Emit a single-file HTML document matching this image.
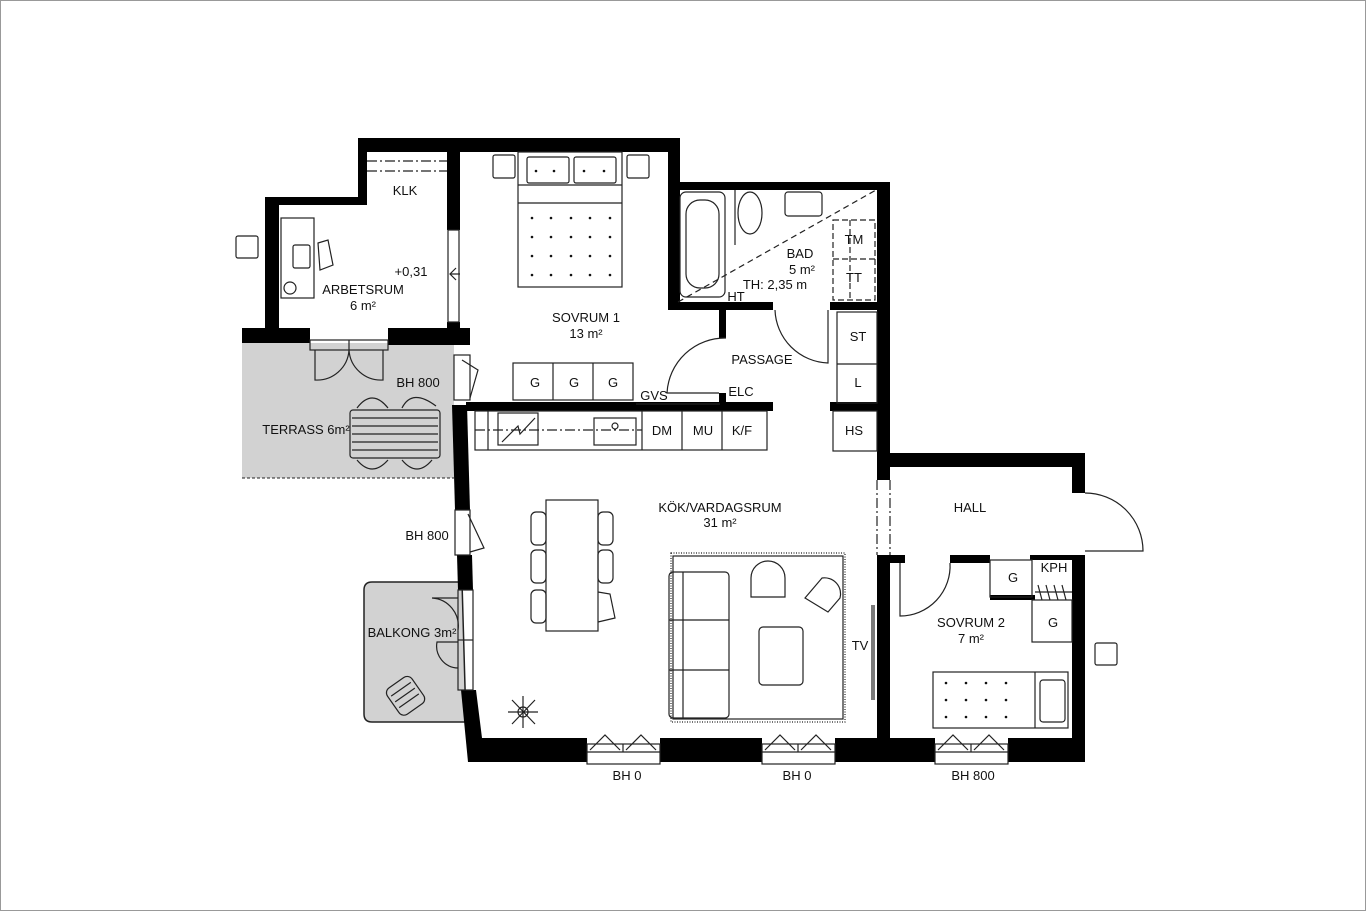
<!DOCTYPE html>
<html><head><meta charset="utf-8"><style>
html,body{margin:0;padding:0;background:#fff}
svg{display:block}
text{font-family:"Liberation Sans Narrow","Liberation Sans",sans-serif;font-size:13px;fill:#111}
</style></head><body>
<svg width="1366" height="911" viewBox="0 0 1366 911" xmlns="http://www.w3.org/2000/svg">
<rect x="0.5" y="0.5" width="1365" height="910" fill="#fff" stroke="#999"/>
<!-- gray outdoor -->
<rect x="242" y="343" width="212" height="135" fill="#d2d2d2"/>
<line x1="242" y1="478" x2="454" y2="478" stroke="#222" stroke-dasharray="3,2"/>
<path d="M372 582 H462 L466 722 H372 Q364 722 364 714 V590 Q364 582 372 582Z" fill="#d2d2d2" stroke="#222" stroke-width="1.5"/>
<g fill="#000">
<!-- top walls -->
<rect x="358" y="138" width="320" height="14"/>
<rect x="358" y="138" width="9" height="67"/>
<rect x="265" y="197" width="102" height="8"/>
<rect x="265" y="197" width="14" height="131"/>
<rect x="242" y="328" width="68" height="15"/>
<rect x="388" y="328" width="82" height="17"/>
<rect x="447" y="152" width="13" height="78"/>
<rect x="447" y="322" width="13" height="23"/>
<rect x="668" y="138" width="12" height="172"/>
<rect x="668" y="182" width="222" height="8"/>
<rect x="877" y="182" width="13" height="298"/>
<rect x="668" y="302" width="105" height="8"/>
<rect x="830" y="302" width="47" height="8"/>
<rect x="719" y="310" width="7" height="28"/>
<rect x="719" y="393" width="7" height="12"/>
<rect x="466" y="402" width="307" height="9"/>
<rect x="830" y="402" width="47" height="9"/>
<!-- left diagonal wall -->
<polygon points="452,405 467,405 470,510 455,510"/>
<polygon points="457,555 472,555 473,590 458,590"/>
<polygon points="461,690 476,690 482,738 482,762 468,762"/>
<rect x="468" y="738" width="119" height="24"/>
<rect x="660" y="738" width="102" height="24"/>
<rect x="835" y="738" width="100" height="24"/>
<rect x="1008" y="738" width="77" height="24"/>
<rect x="877" y="555" width="13" height="190"/>
<rect x="877" y="453" width="208" height="14"/>
<rect x="1072" y="453" width="13" height="40"/>
<rect x="1072" y="555" width="13" height="207"/>
<rect x="877" y="555" width="28" height="8"/>
<rect x="950" y="555" width="40" height="8"/>
<rect x="1030" y="555" width="45" height="5"/>
<rect x="990" y="595" width="45" height="5"/>
</g>
<g fill="none" stroke="#222" stroke-width="1.2">
<!-- windows bottom -->
<rect x="587" y="744" width="73" height="20"/><line x1="587" y1="752" x2="660" y2="752"/><line x1="623" y1="744" x2="623" y2="752"/>
<path d="M590 750 L605 735 L620 750 M626 750 L641 735 L656 750"/>
<rect x="762" y="744" width="73" height="20"/><line x1="762" y1="752" x2="835" y2="752"/><line x1="798" y1="744" x2="798" y2="752"/>
<path d="M765 750 L780 735 L795 750 M801 750 L816 735 L831 750"/>
<rect x="935" y="744" width="73" height="20"/><line x1="935" y1="752" x2="1008" y2="752"/><line x1="971" y1="744" x2="971" y2="752"/>
<path d="M938 750 L953 735 L968 750 M974 750 L989 735 L1004 750"/>
<!-- left windows -->
<rect x="455" y="510" width="15" height="45"/><path d="M468 514 L484 548 L470 552"/>
<rect x="458" y="590" width="15" height="100"/><line x1="458" y1="640" x2="473" y2="640"/>
<path d="M458 598 H432 A28 28 0 0 1 458 630 M458 642 H437 A22 22 0 0 0 458 668"/>
<rect x="454" y="355" width="16" height="45"/><path d="M462 360 L478 370 L470 398"/>
<!-- klk window -->
<line x1="367" y1="161" x2="447" y2="161" stroke-dasharray="10,3,2,3"/>
<line x1="367" y1="171" x2="447" y2="171" stroke-dasharray="10,3,2,3"/>
<rect x="448" y="230" width="11" height="92"/><path d="M456 268 L450 274 L456 280 M450 274 H460"/>
<!-- terrace door -->
<rect x="310" y="340" width="78" height="10"/><line x1="349" y1="340" x2="349" y2="350"/>
<path d="M315 350 V380 A32 32 0 0 0 349 350 M383 350 V380 A32 32 0 0 1 349 350"/>
<!-- terrace furniture -->
<rect x="350" y="410" width="90" height="48" rx="3"/>
<path d="M352 418 H438 M352 426 H438 M352 434 H438 M352 442 H438 M352 450 H438"/>
<path d="M357 408 Q372 388 388 408 M402 408 Q412 388 436 406 M357 460 Q372 478 388 460 M402 460 Q417 478 432 460"/>
<!-- arbetsrum -->
<rect x="281" y="218" width="33" height="80"/>
<rect x="293" y="245" width="17" height="23" rx="2"/>
<circle cx="290" cy="288" r="6"/>
<path d="M318 243 L328 240 L333 265 L320 270 Z"/>
<rect x="236" y="236" width="22" height="22" rx="2"/>
<!-- sovrum 1 -->
<rect x="493" y="155" width="22" height="23" rx="2"/><rect x="627" y="155" width="22" height="23" rx="2"/>
<rect x="518" y="152" width="104" height="135"/><line x1="518" y1="203" x2="622" y2="203"/><line x1="518" y1="185" x2="622" y2="185"/>
<rect x="527" y="157" width="42" height="26" rx="2"/><rect x="574" y="157" width="42" height="26" rx="2"/>
<rect x="513" y="363" width="120" height="37"/><line x1="553" y1="363" x2="553" y2="400"/><line x1="593" y1="363" x2="593" y2="400"/>
<!-- bathroom -->
<rect x="680" y="192" width="45" height="105" rx="6"/><rect x="686" y="200" width="33" height="88" rx="14"/>
<ellipse cx="750" cy="213" rx="12" ry="21"/><line x1="735" y1="190" x2="735" y2="245"/>
<rect x="785" y="192" width="37" height="24" rx="3"/>
<line x1="678" y1="302" x2="876" y2="190" stroke-dasharray="6,4"/>
<rect x="833" y="220" width="42" height="80" stroke-dasharray="6,3"/><line x1="833" y1="259" x2="875" y2="259" stroke-dasharray="6,3"/>
<line x1="850" y1="220" x2="850" y2="300" stroke-dasharray="6,3"/>
<!-- passage -->
<path d="M726 338 A58 58 0 0 0 667 393 H719"/>
<path d="M775 310 A55 55 0 0 0 828 363 V310"/>
<rect x="837" y="312" width="40" height="91"/><line x1="837" y1="364" x2="877" y2="364"/>
<rect x="833" y="411" width="44" height="40"/>
<!-- kitchen counter -->
<rect x="475" y="411" width="292" height="39"/><line x1="488" y1="411" x2="488" y2="450"/>
<line x1="475" y1="430" x2="642" y2="430" stroke-dasharray="10,3,2,3"/>
<rect x="498" y="413" width="40" height="32"/><path d="M502 442 L518 426 L520 434 L535 418"/>
<rect x="594" y="418" width="42" height="27"/><circle cx="615" cy="426" r="3"/>
<line x1="642" y1="411" x2="642" y2="450"/><line x1="682" y1="411" x2="682" y2="450"/><line x1="722" y1="411" x2="722" y2="450"/>
<line x1="636" y1="404" x2="720" y2="404"/>
<!-- dining -->
<rect x="546" y="500" width="52" height="131"/>
<rect x="531" y="512" width="15" height="33" rx="5"/><rect x="531" y="550" width="15" height="33" rx="5"/><rect x="531" y="590" width="15" height="33" rx="5"/>
<rect x="598" y="512" width="15" height="33" rx="5"/><rect x="598" y="550" width="15" height="33" rx="5"/><path d="M598 592 L610 594 L615 618 L598 622"/>
<!-- rug & sofa -->
<rect x="671" y="553" width="174" height="169" stroke-dasharray="1,1.5"/>
<rect x="673" y="556" width="170" height="163"/>
<rect x="669" y="572" width="60" height="146" rx="4"/><line x1="683" y1="572" x2="683" y2="718"/>
<line x1="669" y1="620" x2="729" y2="620"/><line x1="669" y1="670" x2="729" y2="670"/>
<rect x="759" y="627" width="44" height="58" rx="4"/>
<path d="M751 597 V578 A17 17 0 0 1 785 578 V597 Z"/>
<path d="M805 598 L822 578 A16 16 0 0 1 840 598 L828 612 Z"/>
<line x1="872" y1="605" x2="872" y2="700"/><line x1="874" y1="605" x2="874" y2="700"/>
<!-- plant -->
<path d="M512 700 L535 724 M535 700 L512 724 M523 696 V728 M508 712 H538"/>
<circle cx="523" cy="712" r="5"/>
<!-- hall openings -->
<line x1="877" y1="480" x2="877" y2="555" stroke-dasharray="10,3,2,3"/>
<line x1="890" y1="480" x2="890" y2="555" stroke-dasharray="10,3,2,3"/>
<path d="M1085 493 A58 58 0 0 1 1143 551 H1085"/>
<path d="M950 563 A50 50 0 0 1 900 616 V563"/>
<!-- sovrum 2 -->
<rect x="990" y="560" width="42" height="37"/>
<rect x="1032" y="600" width="40" height="42"/>
<path d="M1038 585 L1042 600 M1046 585 L1050 600 M1054 585 L1058 600 M1062 585 L1066 600 M1035 592 H1072"/>
<rect x="933" y="672" width="135" height="56"/><line x1="1035" y1="672" x2="1035" y2="728"/>
<rect x="1040" y="680" width="25" height="42" rx="3"/>
<rect x="1095" y="643" width="22" height="22" rx="2"/>
<!-- balcony chair -->
<g transform="rotate(-35 405 695)"><rect x="390" y="680" width="30" height="32" rx="6"/>
<path d="M393 688 H417 M393 695 H417 M393 702 H417"/></g>
</g>
<!-- dots -->
<g fill="#111">
<circle cx="536" cy="171" r="1.3"/><circle cx="554" cy="171" r="1.3"/><circle cx="584" cy="171" r="1.3"/><circle cx="604" cy="171" r="1.3"/>
<circle cx="532" cy="218" r="1.3"/><circle cx="551" cy="218" r="1.3"/><circle cx="571" cy="218" r="1.3"/><circle cx="590" cy="218" r="1.3"/><circle cx="610" cy="218" r="1.3"/>
<circle cx="532" cy="237" r="1.3"/><circle cx="551" cy="237" r="1.3"/><circle cx="571" cy="237" r="1.3"/><circle cx="590" cy="237" r="1.3"/><circle cx="610" cy="237" r="1.3"/>
<circle cx="532" cy="256" r="1.3"/><circle cx="551" cy="256" r="1.3"/><circle cx="571" cy="256" r="1.3"/><circle cx="590" cy="256" r="1.3"/><circle cx="610" cy="256" r="1.3"/>
<circle cx="532" cy="275" r="1.3"/><circle cx="551" cy="275" r="1.3"/><circle cx="571" cy="275" r="1.3"/><circle cx="590" cy="275" r="1.3"/><circle cx="610" cy="275" r="1.3"/>
<circle cx="946" cy="683" r="1.3"/><circle cx="966" cy="683" r="1.3"/><circle cx="986" cy="683" r="1.3"/><circle cx="1006" cy="683" r="1.3"/>
<circle cx="946" cy="700" r="1.3"/><circle cx="966" cy="700" r="1.3"/><circle cx="986" cy="700" r="1.3"/><circle cx="1006" cy="700" r="1.3"/>
<circle cx="946" cy="717" r="1.3"/><circle cx="966" cy="717" r="1.3"/><circle cx="986" cy="717" r="1.3"/><circle cx="1006" cy="717" r="1.3"/>
</g>
<!-- labels -->
<g text-anchor="middle">
<text x="405" y="195">KLK</text>
<text x="363" y="294">ARBETSRUM</text><text x="363" y="310">6 m²</text>
<text x="411" y="276" font-size="12">+0,31</text>
<text x="586" y="322">SOVRUM 1</text><text x="586" y="338">13 m²</text>
<text x="535" y="387">G</text><text x="574" y="387">G</text><text x="613" y="387">G</text>
<text x="418" y="387">BH 800</text>
<text x="306" y="434">TERRASS 6m²</text>
<text x="654" y="400">GVS</text><text x="741" y="396">ELC</text>
<text x="800" y="258">BAD</text><text x="802" y="274">5 m²</text>
<text x="775" y="289" font-size="12">TH: 2,35 m</text><text x="736" y="301" font-size="12">HT</text>
<text x="854" y="244">TM</text><text x="854" y="282">TT</text>
<text x="762" y="364">PASSAGE</text>
<text x="858" y="341">ST</text><text x="858" y="387">L</text><text x="854" y="435">HS</text>
<text x="662" y="435">DM</text><text x="703" y="435">MU</text><text x="742" y="435">K/F</text>
<text x="720" y="512">KÖK/VARDAGSRUM</text><text x="720" y="527">31 m²</text>
<text x="970" y="512">HALL</text>
<text x="427" y="540">BH 800</text>
<text x="412" y="637">BALKONG 3m²</text>
<text x="860" y="650">TV</text>
<text x="1013" y="582">G</text><text x="1054" y="572" font-size="12">KPH</text><text x="1053" y="627">G</text>
<text x="971" y="627">SOVRUM 2</text><text x="971" y="643">7 m²</text>
<text x="627" y="780">BH 0</text><text x="797" y="780">BH 0</text><text x="973" y="780">BH 800</text>
</g>
</svg>
</body></html>
